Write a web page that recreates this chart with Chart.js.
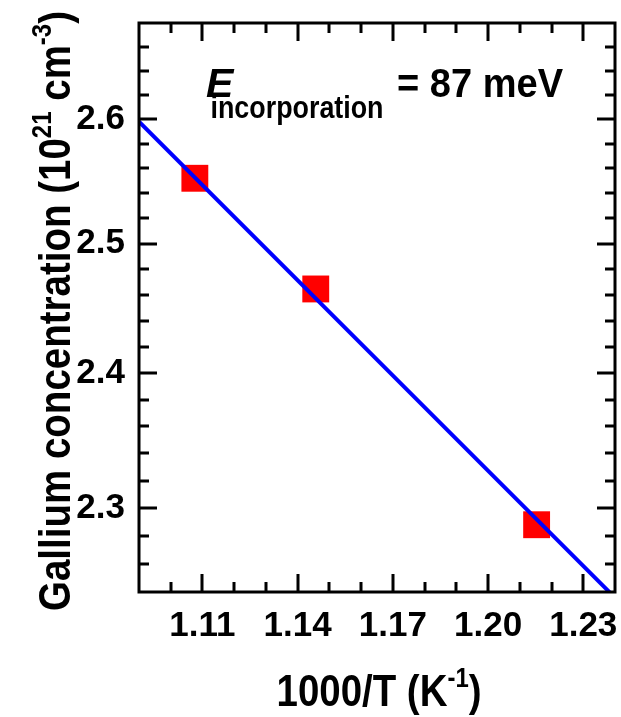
<!DOCTYPE html>
<html>
<head>
<meta charset="utf-8">
<script src="https://cdn.jsdelivr.net/npm/chart.js@4.4.1/dist/chart.umd.min.js"></script>
<style>
	html, body { margin: 0; padding: 0; background: #fff; }
	#wrap { width: 621px; height: 717px; }
</style>
</head>
<body>
<div id="wrap"><canvas id="myChart" width="621" height="717"></canvas></div>
<script>
// measured samples: 1000/T (K^-1) and Ga concentration (10^21 cm^-3)
var invTemp = [1.1076, 1.1457, 1.2153];
var gaConc = [2.552, 2.4645, 2.288];

// Arrhenius fit line (end points)
var fitX = [1.09, 1.24];
var fitY = [2.598, 2.236];

// axes
var xRange = [1.09, 1.24];
var yRange = [2.24, 2.68];
var xTickLabels = [1.11, 1.14, 1.17, 1.20, 1.23];
var xMinorTicks = [1.10, 1.12, 1.13, 1.15, 1.16, 1.18, 1.19, 1.21, 1.22];
var yTickLabels = [2.3, 2.4, 2.5, 2.6];
var yMinorTicks = [2.26, 2.28, 2.32, 2.34, 2.36, 2.38, 2.42, 2.44, 2.46, 2.48, 2.52, 2.54, 2.56, 2.58, 2.62, 2.64, 2.66];

var FONT = "'Liberation Sans', Arial, sans-serif";

// draw a list of text pieces (some superscript), squeezed horizontally
function drawPieces(ctx, pieces, size, width, cx, baseY) {
	var supSize = Math.round(size * 0.62);
	var total = 0;
	pieces.forEach(function (p) {
		ctx.font = "bold " + (p.sup ? supSize : size) + "px " + FONT;
		p.w = ctx.measureText(p.t).width;
		total += p.w;
	});
	var sx = width / total;
	ctx.save();
	ctx.translate(cx, baseY);
	ctx.scale(sx, 1);
	var x = -total / 2;
	ctx.textAlign = "left";
	ctx.textBaseline = "alphabetic";
	pieces.forEach(function (p) {
		ctx.font = "bold " + (p.sup ? supSize : size) + "px " + FONT;
		ctx.fillText(p.t, x, p.sup ? -size * 0.42 : 0);
		x += p.w;
	});
	ctx.restore();
}

function noPad(s) {
	s.paddingTop = 0;
	s.paddingBottom = 0;
	s.paddingLeft = 0;
	s.paddingRight = 0;
}

var framePlugin = {
	id: "frame",
	afterDatasetsDraw: function (chart) {
		var ctx = chart.ctx;
		var a = chart.chartArea;
		var xs = chart.scales.x;
		var ys = chart.scales.y;

		ctx.save();
		ctx.strokeStyle = "#000";
		ctx.lineWidth = 3;
		ctx.beginPath();
		function xTick(v, len) {
			var px = Math.round(xs.getPixelForValue(v));
			ctx.moveTo(px, a.bottom); ctx.lineTo(px, a.bottom - len);
			ctx.moveTo(px, a.top); ctx.lineTo(px, a.top + len);
		}
		function yTick(v, len) {
			var py = Math.round(ys.getPixelForValue(v));
			ctx.moveTo(a.left, py); ctx.lineTo(a.left + len, py);
			ctx.moveTo(a.right, py); ctx.lineTo(a.right - len, py);
		}
		xTickLabels.forEach(function (v) { xTick(v, 18); });
		xMinorTicks.forEach(function (v) { xTick(v, 10); });
		yTickLabels.forEach(function (v) { yTick(v, 18); });
		yMinorTicks.forEach(function (v) { yTick(v, 10); });
		ctx.stroke();
		ctx.strokeRect(a.left, a.top, a.right - a.left, a.bottom - a.top);
		ctx.restore();
	},
	afterDraw: function (chart) {
		var ctx = chart.ctx;
		ctx.save();
		ctx.fillStyle = "#000";

		// x title
		drawPieces(ctx, [{ t: "1000/T (K" }, { t: "-1", sup: true }, { t: ")" }],
			45, 205, 379, 706);

		// y title
		ctx.save();
		ctx.translate(70, 311);
		ctx.rotate(-Math.PI / 2);
		drawPieces(ctx, [
			{ t: "Gallium concentration (10" }, { t: "21", sup: true },
			{ t: " cm" }, { t: "-3", sup: true }, { t: ")" }
		], 45, 600, 0, 0);
		ctx.restore();

		// annotation
		ctx.textAlign = "left";
		ctx.textBaseline = "alphabetic";
		ctx.font = "italic bold 41px " + FONT;
		ctx.fillText("E", 206, 97);
		drawPieces(ctx, [{ t: "incorporation" }], 31, 173, 297, 118);
		drawPieces(ctx, [{ t: "= 87 meV" }], 41, 166, 480, 97);
		ctx.restore();
	}
};

var ctx = document.getElementById("myChart").getContext("2d");
var myChart = new Chart(ctx, {
	type: "scatter",
	data: {
		datasets: [
			{
				label: "Fit",
				data: fitX.map(function (x, i) { return { x: x, y: fitY[i] }; }),
				showLine: true,
				borderColor: "#0000ff",
				borderWidth: 4,
				pointRadius: 0,
				fill: false,
			},
			{
				label: "Ga",
				data: invTemp.map(function (x, i) { return { x: x, y: gaConc[i] }; }),
				pointStyle: "rect",
				pointRadius: 19,
				backgroundColor: "#ff0000",
				borderWidth: 0,
			},
		],
	},
	options: {
		responsive: false,
		animation: false,
		events: [],
		layout: { autoPadding: false, padding: { top: 23, right: 6, left: 0, bottom: 0 } },
		plugins: { legend: { display: false }, tooltip: { enabled: false } },
		scales: {
			x: {
				type: "linear",
				min: xRange[0],
				max: xRange[1],
				grid: { display: false, drawTicks: false },
				border: { display: false },
				afterBuildTicks: function (s) {
					s.ticks = xTickLabels.map(function (v) { return { value: v }; });
				},
				afterFit: function (s) { s.height = 125; noPad(s); },
				ticks: {
					autoSkip: false,
					maxRotation: 0,
					padding: 13,
					color: "#000",
					font: { family: FONT, size: 35, weight: "bold" },
					callback: function (v) { return Number(v).toFixed(2); },
				},
			},
			y: {
				type: "logarithmic",
				min: yRange[0],
				max: yRange[1],
				grid: { display: false, drawTicks: false },
				border: { display: false },
				afterBuildTicks: function (s) {
					s.ticks = yTickLabels.map(function (v) { return { value: v }; });
				},
				afterFit: function (s) { s.width = 139; noPad(s); },
				ticks: {
					autoSkip: false,
					padding: 14,
					color: "#000",
					font: { family: FONT, size: 35, weight: "bold" },
					callback: function (v) { return Number(v).toFixed(1); },
				},
			},
		},
	},
	plugins: [framePlugin],
});
</script>
</body>
</html>
